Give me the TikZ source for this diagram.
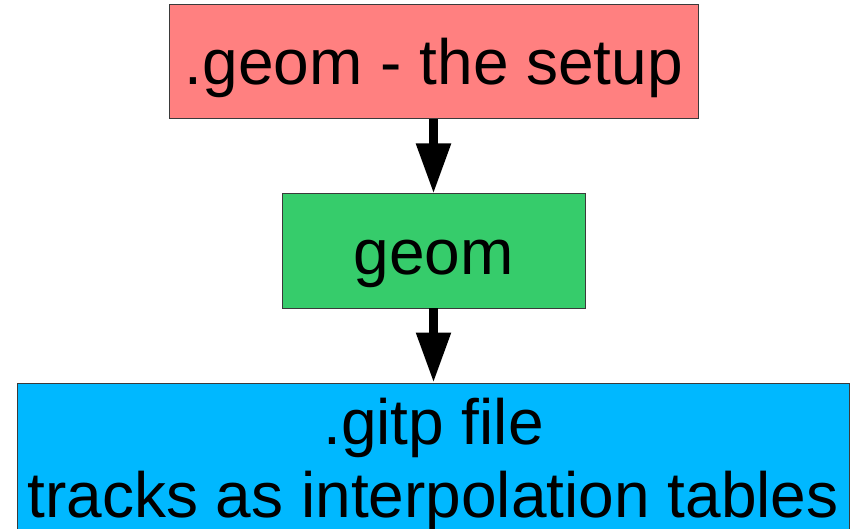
\documentclass[tikz,border=0pt]{standalone}
\usepackage{fontspec}
\setmainfont{Liberation Sans}
\usetikzlibrary{arrows.meta}
\definecolor{boxred}{HTML}{FF8080}
\definecolor{boxgreen}{HTML}{36CC6B}
\definecolor{boxblue}{HTML}{00B8FF}
\definecolor{boxline}{HTML}{3A3A3A}
\tikzset{
  flowbox/.style={draw=boxline, line width=1pt, inner sep=0pt, outer sep=0pt, rectangle},
  label text/.style={anchor=base, inner sep=0pt, font=\fontsize{64}{73.5}\selectfont},
  flowarrow/.style={line width=8.5pt, -{Triangle[width=33pt,length=50pt]}, shorten >=0.5pt}
}
\begin{document}
\begin{tikzpicture}[x=1pt,y=-1pt]
  \useasboundingbox (0,0) rectangle (861,529);
  % three stages of the pipeline
  \node[flowbox, fill=boxred, minimum width=529pt, minimum height=114pt] (setupbox) at (433.5,62) {};
  \node[flowbox, fill=boxgreen, minimum width=303pt, minimum height=114pt] (geombox) at (433.5,251) {};
  \node[flowbox, fill=boxblue, minimum width=832pt, minimum height=177pt] (gitpbox) at (433,471.5) {};
  \node[label text] (setup) at (434,85) {.geom - the setup};
  \node[label text] (geom) at (433.5,274) {geom};
  \node[label text] (gitp1) at (433.5,444) {.gitp file};
  \node[label text] (gitp2) at (433,517) {tracks as interpolation tables};
  % connectors between the stages
  \draw[flowarrow] (setupbox.south) -- (geombox.north);
  \draw[flowarrow] (geombox.south) -- (geombox.south |- gitpbox.north);
\end{tikzpicture}
\end{document}
